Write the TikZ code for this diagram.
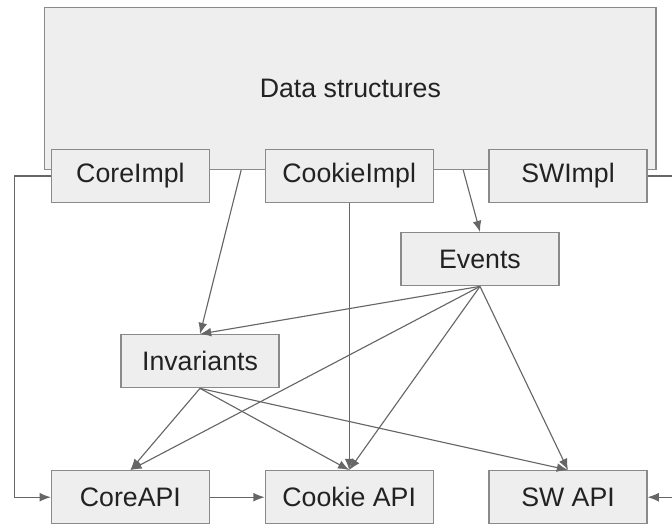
\documentclass[tikz,border=0pt]{standalone}
\usepackage{fontspec}
\setmainfont{Liberation Sans}
\usetikzlibrary{arrows.meta,positioning}
\definecolor{boxfill}{HTML}{EEEEEE}
\definecolor{boxline}{HTML}{8A8A8A}
\definecolor{wire}{HTML}{666666}
\definecolor{ink}{HTML}{222222}

\begin{document}
\begin{tikzpicture}[node distance=5.47cm, auto,
  box/.style={draw=boxline, fill=boxfill, text=ink, line width=0.8pt,
    minimum width=3.95cm, minimum height=1.33cm, font=\fontsize{19}{23}\selectfont},
  arr/.style={draw=wire, line width=0.8pt, -{Latex[length=2.8mm,width=2.2mm]}}]
  \useasboundingbox (0,0) rectangle (16.8,-13.1);
  \node[box, minimum width=15.28cm, minimum height=4.05cm] (DS) at (8.76,-2.22) {Data structures};
  \node[box] (CoreImpl) at (3.26,-4.4) {CoreImpl};
  \node[box, minimum width=4.2cm] (CookieImpl) [right of=CoreImpl] {CookieImpl};
  \node[box] (SWImpl) [right of=CookieImpl] {SWImpl};
  \node[box] (Events) at (12.0,-6.48) {Events};
  \node[box] (Invariants) at (5.0,-9.03) {Invariants};
  \node[box] (CoreAPI) [below of=CoreImpl, node distance=8.03cm] {CoreAPI};
  \node[box, minimum width=4.2cm] (CookieAPI) [right of=CoreAPI] {Cookie API};
  \node[box] (SWAPI) [right of=CookieAPI] {SW API};
  \coordinate (dsA) at (6.03,-4.25);
  \coordinate (dsB) at (11.58,-4.25);
  \draw[arr] (CoreImpl.west) -- ++(-0.9,0) |- (CoreAPI.west);
  \draw[arr] (SWImpl.east) -- ++(0.9,0) |- (SWAPI.east);
  \draw[arr] (dsA) -- (Invariants.north);
  \draw[arr] (dsB) -- (Events.north);
  \draw[arr] (CookieImpl.south) -- (CookieAPI.north);
  \draw[arr] (Events.south) -- (Invariants.north);
  \draw[arr] (Events.south) -- (CoreAPI.north);
  \draw[arr] (Events.south) -- (CookieAPI.north);
  \draw[arr] (Events.south) -- (SWAPI.north);
  \draw[arr] (Invariants.south) -- (CoreAPI.north);
  \draw[arr] (Invariants.south) -- (CookieAPI.north);
  \draw[arr] (Invariants.south) -- (SWAPI.north);
  \draw[arr] (CoreAPI) -- (CookieAPI);
\end{tikzpicture}
\end{document}
